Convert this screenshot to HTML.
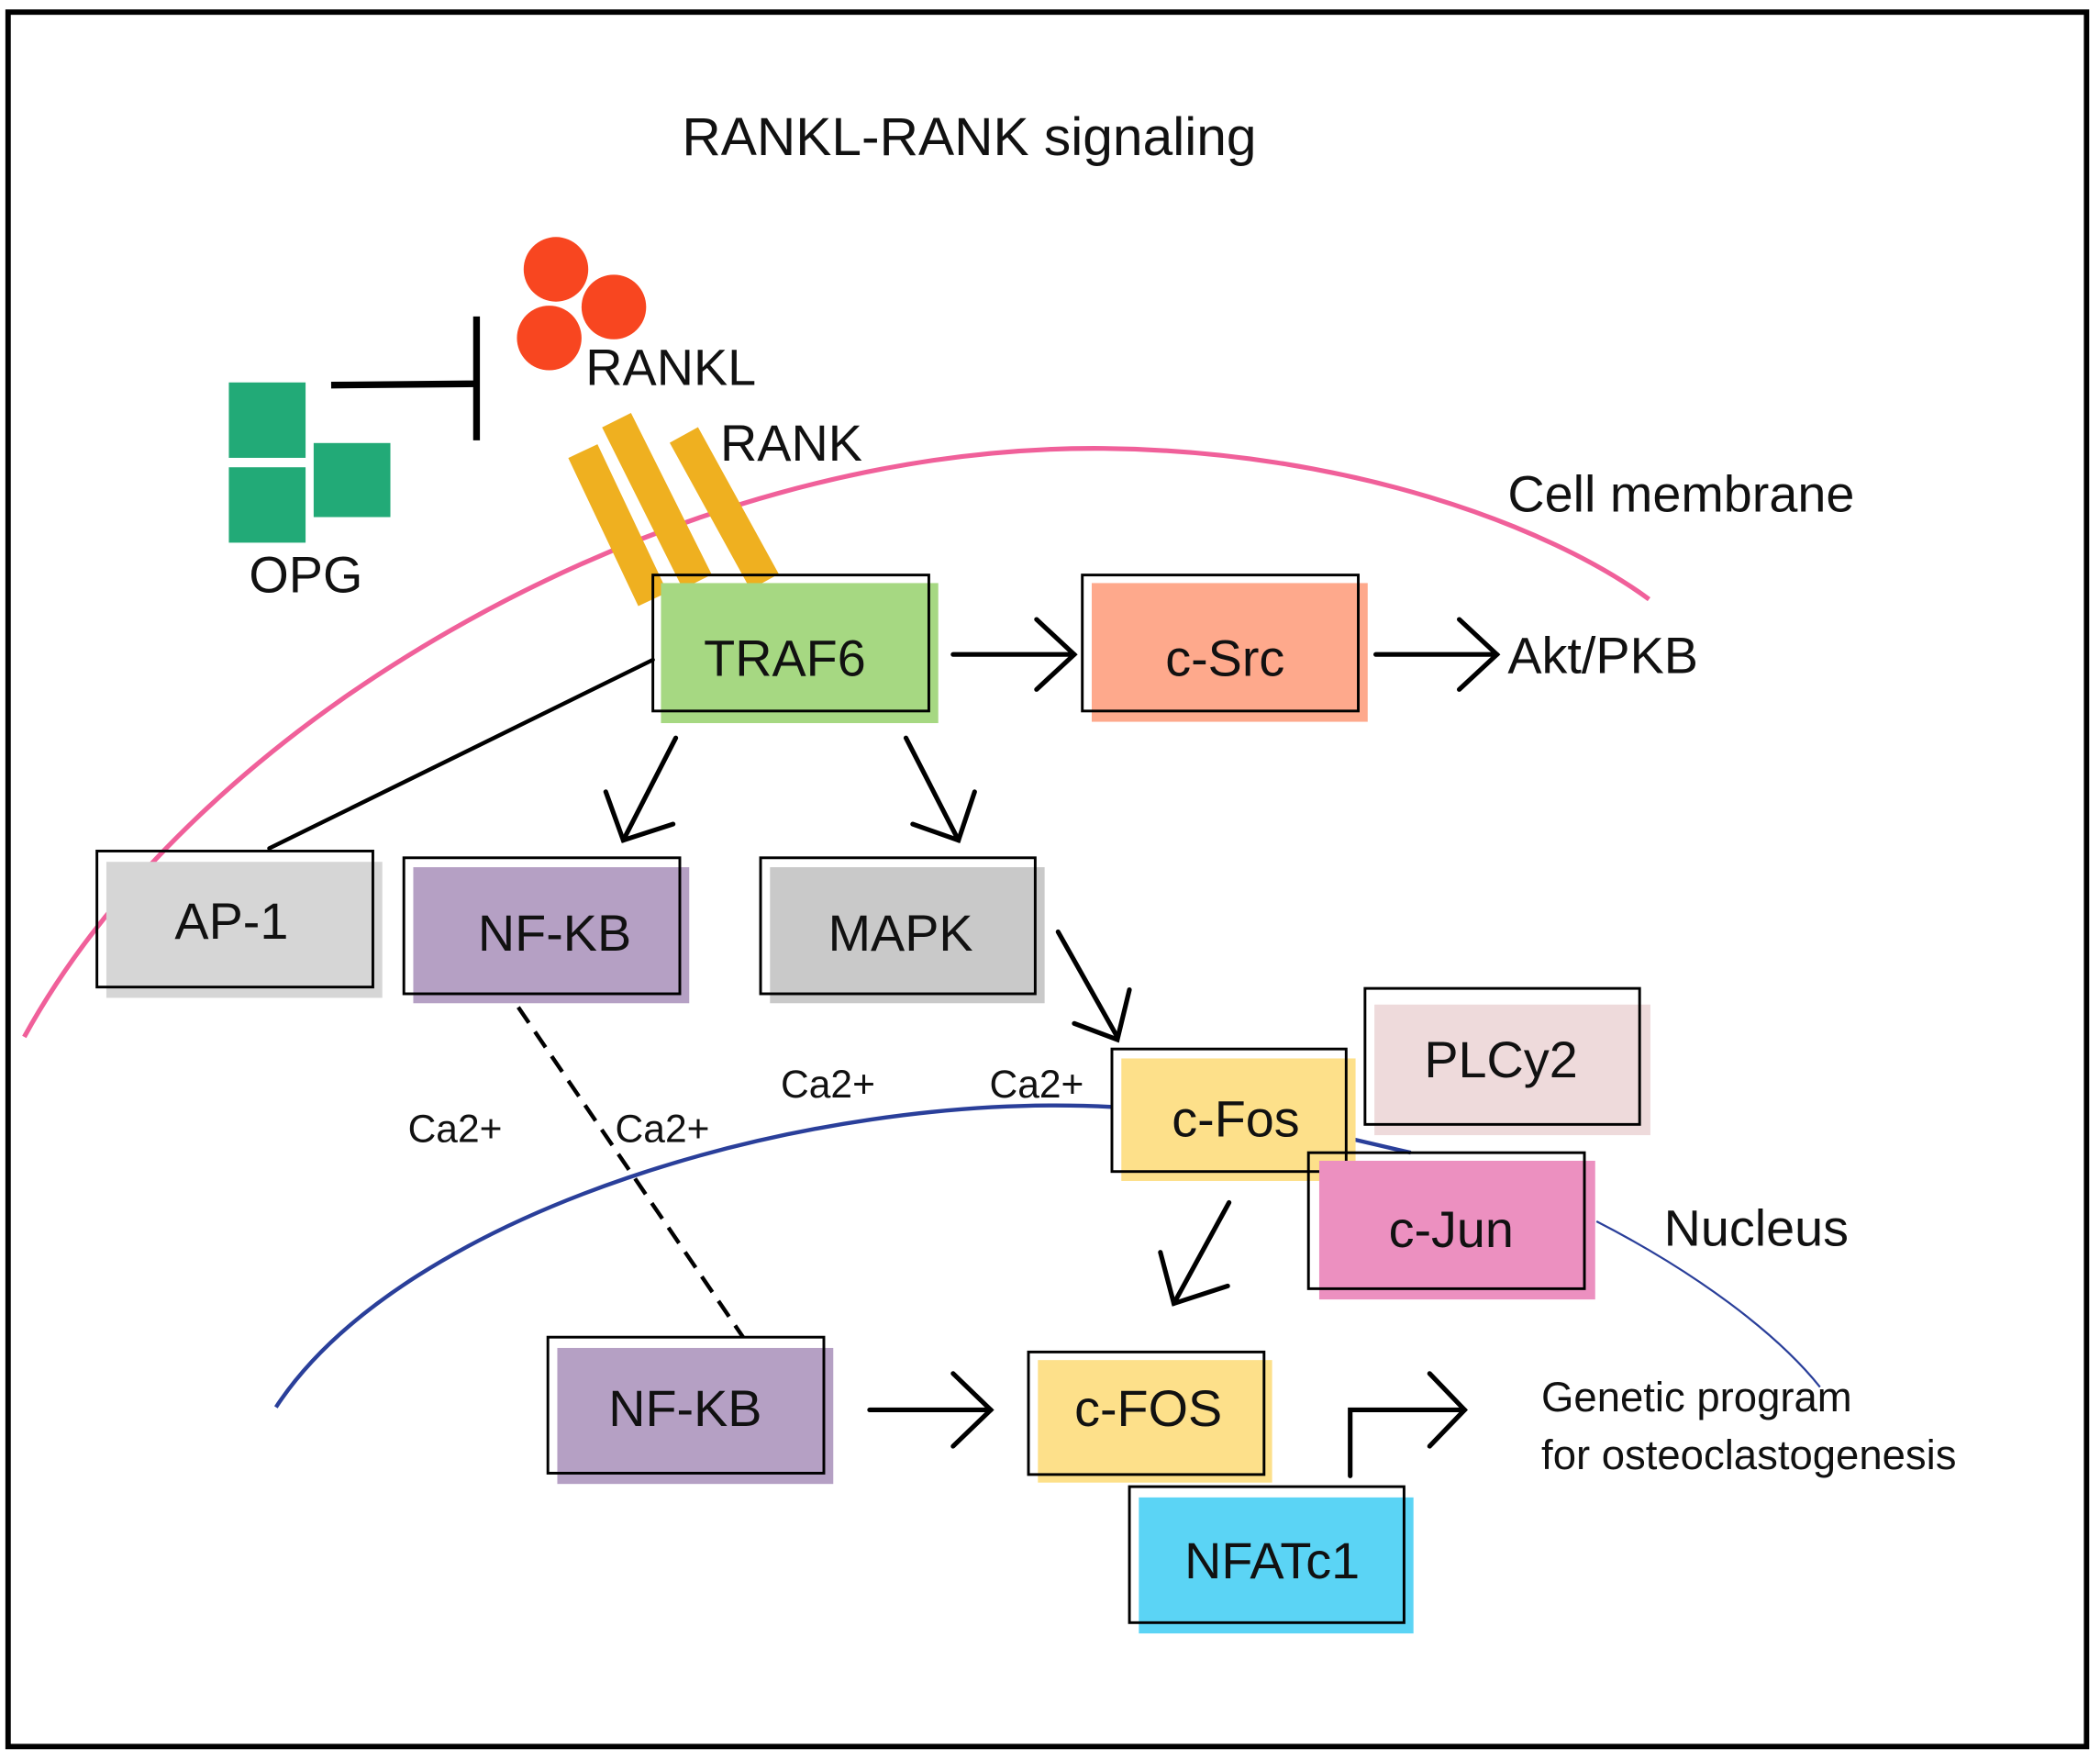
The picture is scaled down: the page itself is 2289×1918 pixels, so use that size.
<!DOCTYPE html>
<html><head><meta charset="utf-8"><style>
html,body{margin:0;padding:0;background:#fff;}
svg{display:block;}
text{font-family:"Liberation Sans",sans-serif;fill:#111;}
</style></head><body>
<svg width="2289" height="1918" viewBox="0 0 1560 1307" preserveAspectRatio="none" xmlns="http://www.w3.org/2000/svg">
<rect x="0" y="0" width="1560" height="1307" fill="#fff"/>
<rect x="6" y="9" width="1544" height="1288" fill="none" stroke="#000" stroke-width="4"/>
<text x="720" y="115" font-size="40" text-anchor="middle">RANKL-RANK signaling</text>

<!-- membrane -->
<path d="M18,770 C 150,530 500,330 820,333 C 1000,335 1150,390 1225,445" fill="none" stroke="#f0609a" stroke-width="3.5"/>
<text x="1120" y="380" font-size="38">Cell membrane</text>

<!-- nucleus -->
<path d="M205,1045 C 300,900 600,810 826,822" fill="none" stroke="#2a3f9a" stroke-width="3"/>
<path d="M1005,846 L1048,856" fill="none" stroke="#2a3f9a" stroke-width="3"/>
<path d="M1186,907 C 1260,945 1320,990 1352,1030" fill="none" stroke="#2a3f9a" stroke-width="1.5"/>
<text x="1236" y="925" font-size="38">Nucleus</text>

<!-- RANKL -->
<circle cx="413" cy="200" r="24" fill="#f84620"/>
<circle cx="456" cy="228" r="24" fill="#f84620"/>
<circle cx="408" cy="251" r="24" fill="#f84620"/>
<text x="435" y="286" font-size="38">RANKL</text>

<!-- OPG -->
<rect x="170" y="284" width="57" height="56" fill="#22aa77"/>
<rect x="170" y="347" width="57" height="56" fill="#22aa77"/>
<rect x="233" y="329" width="57" height="55" fill="#22aa77"/>
<text x="185" y="440" font-size="38">OPG</text>
<line x1="246" y1="286" x2="354" y2="285" stroke="#000" stroke-width="5"/>
<line x1="354" y1="235" x2="354" y2="327" stroke="#000" stroke-width="5"/>

<!-- RANK -->
<line x1="433" y1="335" x2="485" y2="445" stroke="#efb020" stroke-width="24"/>
<line x1="458" y1="312" x2="518" y2="432" stroke="#efb020" stroke-width="24"/>
<line x1="508" y1="323" x2="568" y2="432" stroke="#efb020" stroke-width="24"/>
<text x="535" y="342" font-size="38">RANK</text>

<g stroke="#000" stroke-width="3.5" fill="none" stroke-linecap="round" stroke-linejoin="miter">
<line x1="708" y1="486" x2="798" y2="486"/><polyline points="770,460 798,486 770,512"/>
<line x1="1022" y1="486" x2="1112" y2="486"/><polyline points="1084,460 1112,486 1084,512"/>
<line x1="485" y1="490" x2="200" y2="630" stroke-width="3"/>
<line x1="502" y1="548" x2="463" y2="624"/><polyline points="450,588 463,624 500,612"/>
<line x1="673" y1="548" x2="712" y2="624"/><polyline points="678,612 712,624 724,588"/>
<line x1="786" y1="692" x2="830" y2="770"/><polyline points="798,760 830,772 839,735"/>
<line x1="913" y1="893" x2="872" y2="968"/><polyline points="862,930 872,968 912,955"/>
<line x1="646" y1="1047" x2="736" y2="1047"/><polyline points="708,1020 736,1047 708,1074"/>
<polyline points="1003,1096 1003,1047 1088,1047"/><polyline points="1062,1020 1088,1047 1062,1074"/>
</g>
<line x1="385" y1="748" x2="552" y2="993" stroke="#000" stroke-width="3" stroke-dasharray="14 8"/>

<!-- boxes -->
<g stroke="#000" stroke-width="2">
<rect x="491" y="433" width="206" height="104" fill="#a6d882" stroke="none"/><rect x="485" y="427" width="205" height="101" fill="none"/>
<rect x="811" y="433" width="205" height="103" fill="#fea98c" stroke="none"/><rect x="804" y="427" width="205" height="101" fill="none"/>
<rect x="79" y="640" width="205" height="101" fill="#d6d6d6" stroke="none"/><rect x="72" y="632" width="205" height="101" fill="none"/>
<rect x="307" y="644" width="205" height="101" fill="#b5a0c4" stroke="none"/><rect x="300" y="637" width="205" height="101" fill="none"/>
<rect x="572" y="644" width="204" height="101" fill="#c9c9c9" stroke="none"/><rect x="565" y="637" width="204" height="101" fill="none"/>
<rect x="1021" y="746" width="205" height="97" fill="#eedadb" stroke="none"/><rect x="1014" y="734" width="204" height="101" fill="none"/>
<rect x="833" y="786" width="174" height="91" fill="#fde08a" stroke="none"/><rect x="826" y="779" width="174" height="91" fill="none"/>
<rect x="980" y="862" width="205" height="103" fill="#ec90c0" stroke="none"/><rect x="972" y="856" width="205" height="101" fill="none"/>
<rect x="414" y="1001" width="205" height="101" fill="#b5a0c4" stroke="none"/><rect x="407" y="993" width="205" height="101" fill="none"/>
<rect x="771" y="1010" width="174" height="91" fill="#fde08a" stroke="none"/><rect x="764" y="1004" width="175" height="91" fill="none"/>
<rect x="846" y="1112" width="204" height="101" fill="#5bd4f5" stroke="none"/><rect x="839" y="1104" width="204" height="101" fill="none"/>
</g>
<g font-size="38" text-anchor="middle">
<text x="583" y="502">TRAF6</text>
<text x="910" y="502">c-Src</text>
<text x="172" y="697">AP-1</text>
<text x="412" y="706">NF-KB</text>
<text x="669" y="706">MAPK</text>
<text x="1115" y="800">PLCy2</text>
<text x="918" y="844">c-Fos</text>
<text x="1078" y="926">c-Jun</text>
<text x="509" y="1059">NF-KB</text>
<text x="853" y="1059">c-FOS</text>
<text x="945" y="1172">NFATc1</text>
</g>
<text x="1120" y="500" font-size="38">Akt/PKB</text>
<g font-size="29">
<text x="303" y="848">Ca2+</text>
<text x="457" y="848">Ca2+</text>
<text x="580" y="815">Ca2+</text>
<text x="735" y="815">Ca2+</text>
</g>
<text x="1145" y="1048" font-size="31">Genetic program</text>
<text x="1145" y="1091" font-size="31">for osteoclastogenesis</text>
</svg>
</body></html>
